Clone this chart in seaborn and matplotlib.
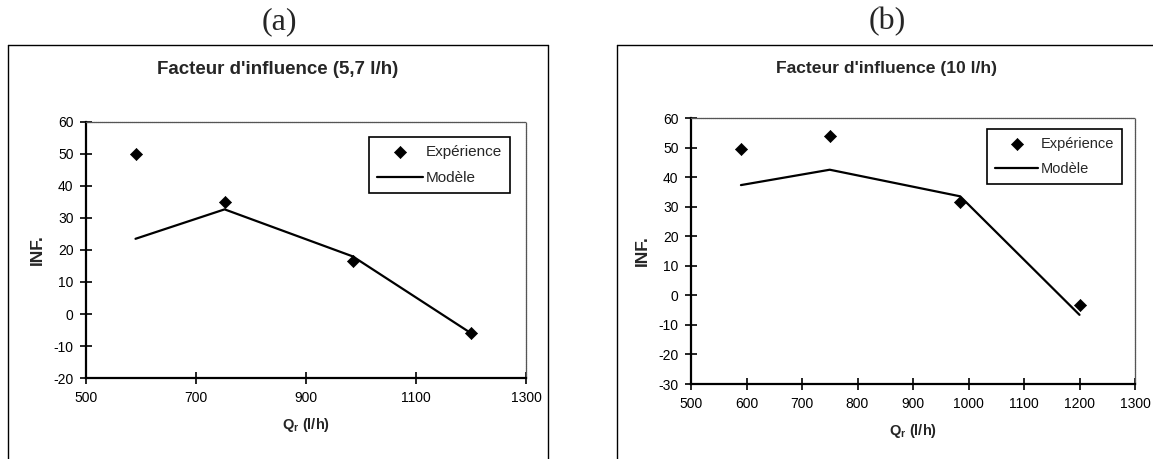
import matplotlib
matplotlib.use("Agg")
import matplotlib.pyplot as plt
import seaborn as sns
import pandas as pd
from matplotlib.lines import Line2D

sns.set_style("ticks")
plt.rcParams['font.family'] = ['Liberation Sans', 'DejaVu Sans']
plt.rcParams['mathtext.fontset'] = 'custom'
plt.rcParams['mathtext.rm'] = 'Liberation Sans'
plt.rcParams['mathtext.bf'] = 'Liberation Sans:bold'
plt.rcParams['axes.unicode_minus'] = False

# ---- data ----
qr_a = [590, 752, 985, 1200]
exp_a = [50.0, 35.0, 16.7, -5.8]
mod_a = [23.5, 32.7, 18.0, -6.0]

qr_b = [590, 750, 985, 1200]
exp_b = [49.4, 54.0, 31.5, -3.2]
mod_b = [37.3, 42.5, 33.5, -6.6]

titles = ["Facteur d'influence (5,7 l/h)", "Facteur d'influence (10 l/h)"]
panel_labels = ["(a)", "(b)"]
xticks_a = [500, 700, 900, 1100, 1300]
xticks_b = [500, 600, 700, 800, 900, 1000, 1100, 1200, 1300]
yticks_a = [-20, -10, 0, 10, 20, 30, 40, 50, 60]
yticks_b = [-30, -20, -10, 0, 10, 20, 30, 40, 50, 60]

fig = plt.figure(figsize=(11.53, 4.59), dpi=100)
W, H = 1153, 459

def px_ax(l, r, t, b):
    return [l / W, 1 - b / H, (r - l) / W, (b - t) / H]

ax_a = fig.add_axes(px_ax(86, 526, 122, 378))
ax_b = fig.add_axes(px_ax(691, 1135, 118, 384))

def draw(ax, qr, ex, mo, xt, yt, leg_anchor, leg_fs):
    d_exp = pd.DataFrame({"Qr": qr, "INF": ex})
    d_mod = pd.DataFrame({"Qr": qr, "INF": mo})
    sns.lineplot(data=d_mod, x="Qr", y="INF", ax=ax, color="black", lw=1.6,
                 label="Modèle", zorder=2)
    sns.scatterplot(data=d_exp, x="Qr", y="INF", ax=ax, marker="D", s=38,
                    color="black", edgecolor="black", label="Expérience", zorder=3)
    ax.set_xlim(xt[0], xt[-1])
    ax.set_ylim(yt[0], yt[-1])
    ax.set_xticks(xt)
    ax.set_yticks(yt)
    ax.tick_params(direction="inout", length=8, width=1.2, labelsize=10,
                   colors="black", pad=5, bottom=True, left=True)
    for s in ["left", "bottom"]:
        ax.spines[s].set_visible(True)
        ax.spines[s].set_color("black")
        ax.spines[s].set_linewidth(1.6)
    for s in ["top", "right"]:
        ax.spines[s].set_visible(True)
        ax.spines[s].set_color("#555555")
        ax.spines[s].set_linewidth(0.9)
        ax.spines[s].set_linestyle((0, (1, 0.6)))
    ax.set_xlabel(r"Q$_\mathbf{r}$ (l/h)", fontsize=10.5, fontweight="bold", labelpad=8)
    ax.set_ylabel("INF.", fontsize=12.5, fontweight="bold", labelpad=6)
    handles, labels = ax.get_legend_handles_labels()
    order = [labels.index("Expérience"), labels.index("Modèle")]
    leg = ax.legend([handles[i] for i in order], [labels[i] for i in order],
                    loc="upper right", bbox_to_anchor=leg_anchor, borderaxespad=0,
                    fancybox=False, framealpha=1, edgecolor="black", fontsize=leg_fs,
                    handlelength=3.0, handletextpad=0.15, labelspacing=0.75,
                    borderpad=0.55)
    leg.get_frame().set_linewidth(1.2)

draw(ax_a, qr_a, exp_a, mod_a, xticks_a, yticks_a, (0.9636, 0.9414), 11)
draw(ax_b, qr_b, exp_b, mod_b, xticks_b, yticks_b, (0.9707, 0.9586), 10.5)

# chart titles and panel labels
fig.text(278 / W, 1 - 70 / H, titles[0], ha="center", va="center",
         fontsize=13.5, fontweight="bold")
fig.text(887 / W, 1 - 68 / H, titles[1], ha="center", va="center",
         fontsize=12.6, fontweight="bold")
fig.text(279 / W, 1 - 22 / H, panel_labels[0], ha="center", va="center",
         fontsize=23, family="Liberation Serif")
fig.text(887 / W, 1 - 22 / H, panel_labels[1], ha="center", va="center",
         fontsize=23, family="Liberation Serif")

# outer chart-area borders
def fline(x0, y0, x1, y1):
    fig.add_artist(Line2D([x0 / W, x1 / W], [1 - y0 / H, 1 - y1 / H],
                          color="black", lw=1.0, transform=fig.transFigure))

fline(8, 45, 548, 45)
fline(8, 45, 8, 459)
fline(548, 45, 548, 459)
fline(617, 45, 1153, 45)
fline(617, 45, 617, 459)

fig.savefig("out.png", dpi=100)
